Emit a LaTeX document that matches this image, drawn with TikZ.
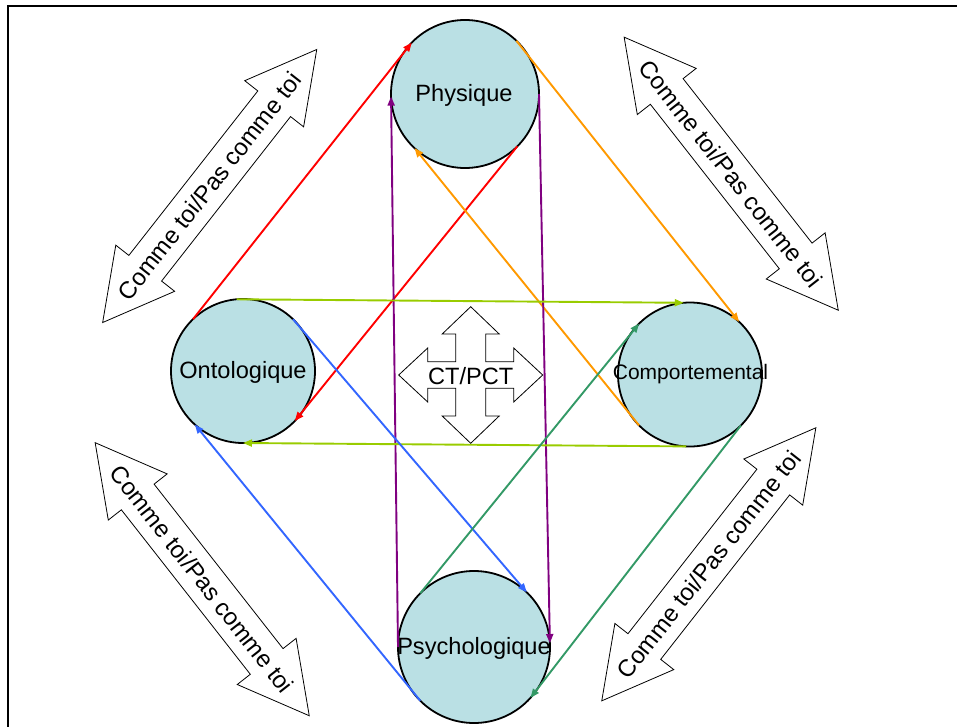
\documentclass[tikz,border=0pt]{standalone}
\usepackage{fontspec}
\setmainfont{Liberation Sans}
\usetikzlibrary{arrows.meta}
\definecolor{circfill}{RGB}{186,224,228}
\definecolor{cred}{RGB}{255,0,0}
\definecolor{corange}{RGB}{255,153,0}
\definecolor{cpurple}{RGB}{128,0,128}
\definecolor{cyg}{RGB}{153,204,0}
\definecolor{cblue}{RGB}{51,102,255}
\definecolor{cgreen}{RGB}{51,153,102}
\begin{document}
\begin{tikzpicture}[x=1pt,y=1pt,
  topic/.style={circle, draw=black, line width=1.8pt, fill=circfill, inner sep=0pt, outer sep=0pt},
  topictext/.style={inner sep=0pt, font=\fontsize{23.6}{28}\selectfont},
  link/.style={line width=1.9pt, -{Triangle[length=9pt,width=7pt]}},
  dbl/.style={draw=black, line width=0.8pt, fill=white, line join=miter},
  dbltext/.style={font=\fontsize{24}{28}\selectfont, inner sep=0pt}
]
\useasboundingbox (0,0) rectangle (957,-727);
\draw[line width=2pt] (957,-6) -- (8,-6) -- (8,-727);

% double arrows
\foreach \cx/\cy/\a/\n in {209.7/-186/51.9/dA, 731.2/-173.7/-51.9/dB, 202.2/-579.2/-51.9/dC, 708.8/-564.3/51.9/dD}{
  \begin{scope}[shift={(\cx,\cy)}, rotate=\a]
    \draw[dbl] (-173.5,0) -- (-104.5,37.4) -- (-104.5,20.8) -- (104.5,20.8) -- (104.5,37.4) -- (173.5,0) -- (104.5,-37.4) -- (104.5,-20.8) -- (-104.5,-20.8) -- (-104.5,-37.4) -- cycle;
    \node[dbltext, rotate=\a] (\n) at (0,0) {Comme toi/Pas comme toi};
  \end{scope}
}

% four-way arrow
\begin{scope}[shift={(470.7,-375)}]
  \draw[dbl] (0,68.3) -- (28.5,41) -- (15,41) -- (15,13.3) -- (43,13.3) -- (43,27) -- (72,0) -- (43,-27) -- (43,-13.3) -- (15,-13.3) -- (15,-41) -- (28.5,-41) -- (0,-68.3) -- (-28.5,-41) -- (-15,-41) -- (-15,-13.3) -- (-43,-13.3) -- (-43,-27) -- (-72,0) -- (-43,27) -- (-43,13.3) -- (-15,13.3) -- (-15,41) -- (-28.5,41) -- cycle;
  \node[topictext] (ct) at (0,-1) {CT/PCT};
\end{scope}

% circles
\node[topic, minimum size=148pt] (P) at (465,-94) {};
\node[topic, minimum size=144pt] (O) at (243,-371) {};
\node[topic, minimum size=144pt] (C) at (690,-374.5) {};
\node[topic, minimum size=152pt] (S) at (474,-647) {};

% connectors
\draw[link, cred] (O.134) -- (P.136);
\draw[link, cred] (P.-45.5) -- (O.-44);
\draw[link, corange] (P.46) -- (C.47);
\draw[link, corange] (C.-135) -- (P.-133);
\draw[link, cpurple] (S.180) -- (P.182);
\draw[link, cpurple] (P.0) -- (S.3);
\draw[link, cyg] (O.95) -- (C.95);
\draw[link, cyg] (C.-93) -- (O.-90);
\draw[link, cblue] (O.46) -- (S.46);
\draw[link, cblue] (S.-135) -- (O.-132.6);
\draw[link, cgreen] (S.135) -- (C.135);
\draw[link, cgreen] (C.-45) -- (S.-42.5);

% circle labels
\node[topictext] (Pt) at (464,-95) {Physique};
\node[topictext] (Ot) at (243,-372) {Ontologique};
\node[topictext, font=\fontsize{21}{25}\selectfont] (Ct) at (690.5,-374) {Comportemental};
\node[topictext] (St) at (474,-648) {Psychologique};
\end{tikzpicture}
\end{document}
